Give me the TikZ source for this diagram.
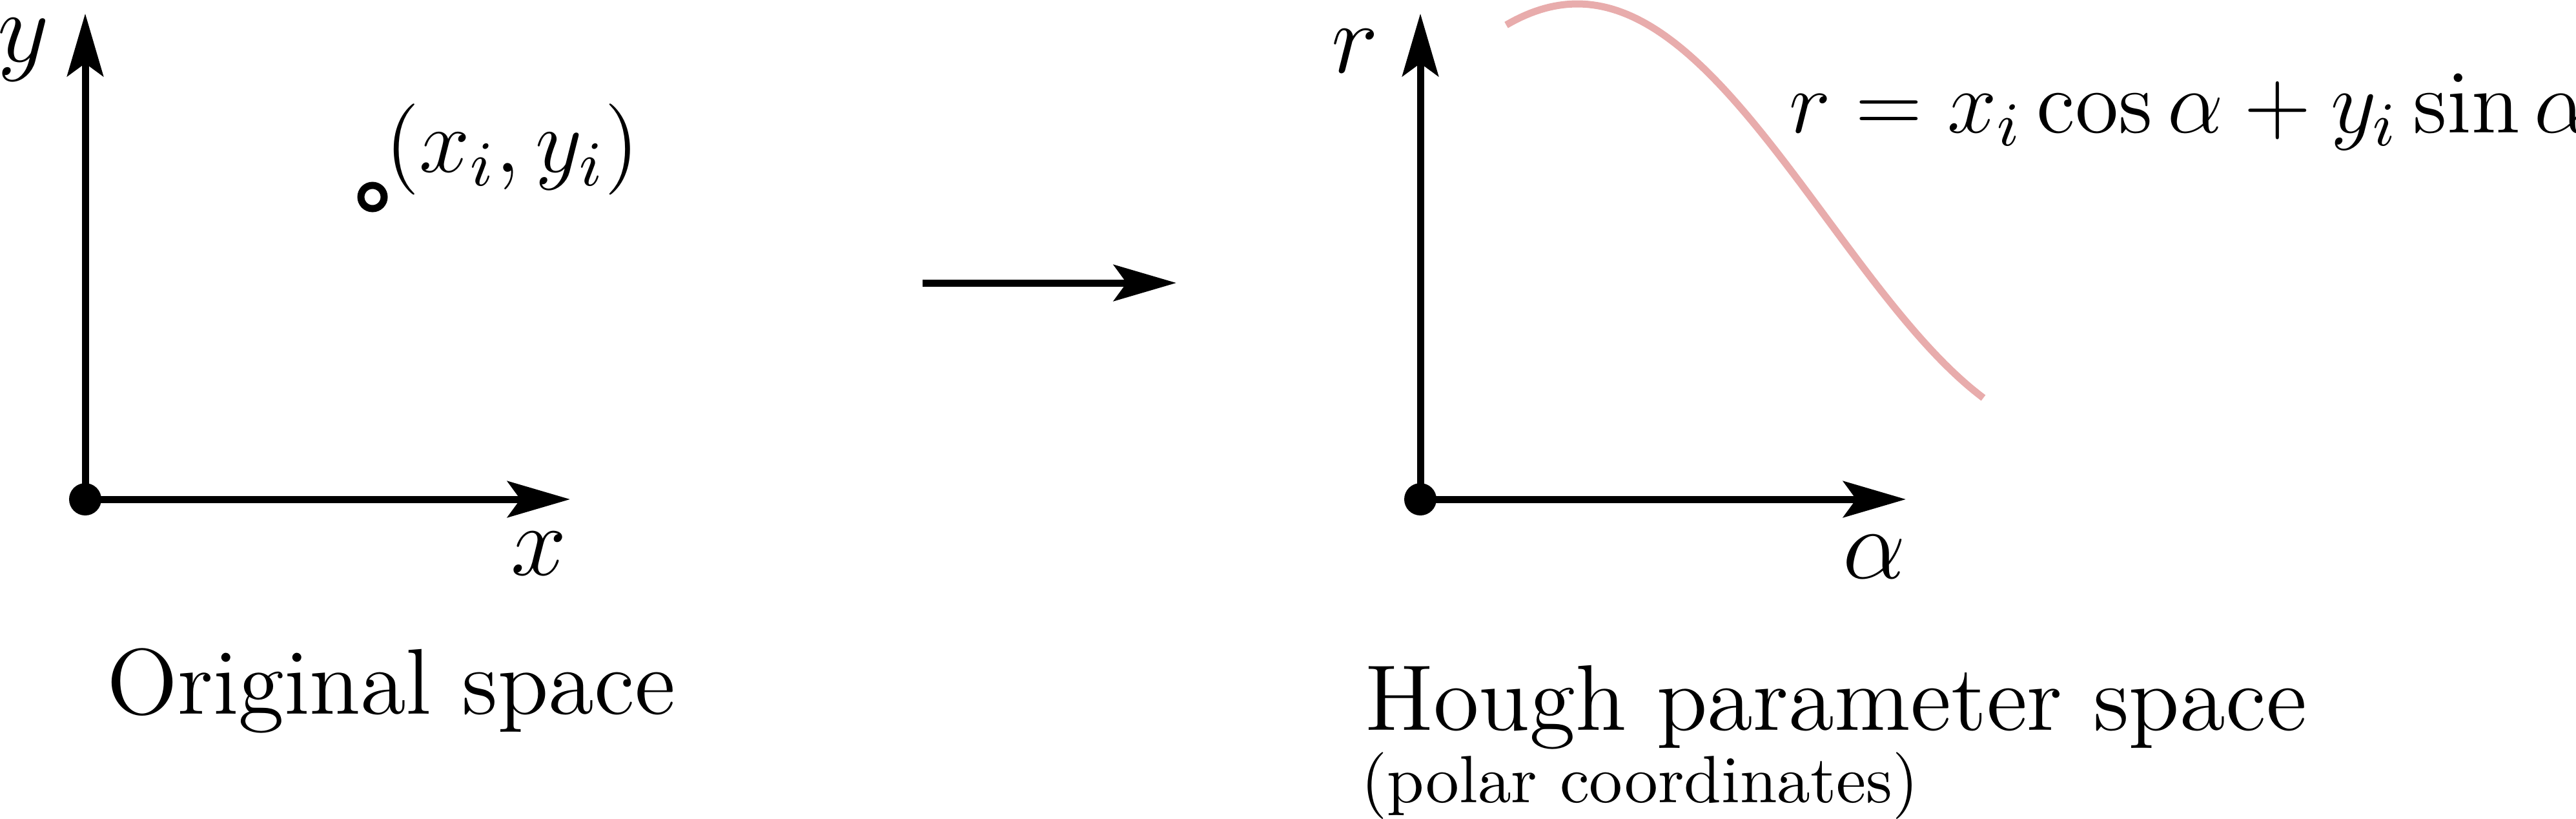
\RequirePackage{fix-cm}
\documentclass[tikz,border=0pt]{standalone}
\usetikzlibrary{arrows.meta}
\definecolor{curvepink}{RGB}{232,172,172}
\tikzset{
  axisline/.style={line width=1.1pt, -{Stealth[length=9.7pt,width=5.6pt,inset=2pt]}},
  origindot/.style={circle, fill=black, inner sep=0pt, minimum size=5pt},
  ptcircle/.style={circle, draw=black, line width=1.1pt, inner sep=0pt, minimum size=3.6pt, fill=white},
  axislabel/.style={inner sep=0pt, font=\fontsize{15.5}{18}\selectfont},
  ptlabel/.style={inner sep=0pt, font=\fontsize{14.1}{17}\selectfont},
  eqlabel/.style={inner sep=0pt, font=\fontsize{13.75}{16}\selectfont},
  caption/.style={inner sep=0pt, font=\fontsize{14.45}{17}\selectfont},
  subcaption/.style={inner sep=0pt, font=\fontsize{10.35}{12}\selectfont},
  curve/.style={draw=curvepink, line width=1.1pt}
}
\begin{document}
\begin{tikzpicture}[x=1pt,y=1pt]
\useasboundingbox (0,0) rectangle (399,126.7);
% left axes
\coordinate (O1) at (13.2,49.4);
\coordinate (Y1) at (13.2,124.6);
\coordinate (X1) at (88.3,49.4);
\draw[axisline] (O1) -- (Y1);
\draw[axisline] (O1) -- (X1);
\node[origindot] (d1) at (O1) {};
\node[axislabel, anchor=base] (ly) at (3.6,117.2) {$y$};
\node[axislabel, anchor=base] (lx) at (83.5,37.7) {$x$};
\node[ptcircle] (P) at (57.7,96.2) {};
\node[ptlabel, anchor=base west] (lp) at (59.4,100.1) {$(x_i, y_i)$};
\node[caption, anchor=base west] (c1) at (16.3,16.2) {Original space};
% middle arrow
\coordinate (A1) at (142.9,82.9);
\coordinate (A2) at (182.2,82.9);
\draw[axisline] (A1) -- (A2);
% right axes
\coordinate (O2) at (220.0,49.4);
\coordinate (Y2) at (220.0,124.6);
\coordinate (X2) at (295.2,49.4);
\draw[axisline] (O2) -- (Y2);
\draw[axisline] (O2) -- (X2);
\node[origindot] (d2) at (O2) {};
\node[axislabel, anchor=base] (lr) at (209.9,115.5) {$r$};
\node[axislabel, anchor=base] (la) at (290.3,37.2) {$\alpha$};
\draw[curve, domain=233.3:307.2, samples=100, variable=\t]
  plot ({\t}, {92.8 + 33.3*cos(2.326*(\t-244.3))});
\node[eqlabel, anchor=base west] (eq) at (276.9,106.2) {$r = x_i\cos\alpha + y_i\sin\alpha$};
\node[caption, anchor=base west] (c2) at (211.2,13.7) {Hough parameter space};
\node[subcaption, anchor=base west] (c3) at (210.6,2.5) {(polar coordinates)};
\end{tikzpicture}
\end{document}
